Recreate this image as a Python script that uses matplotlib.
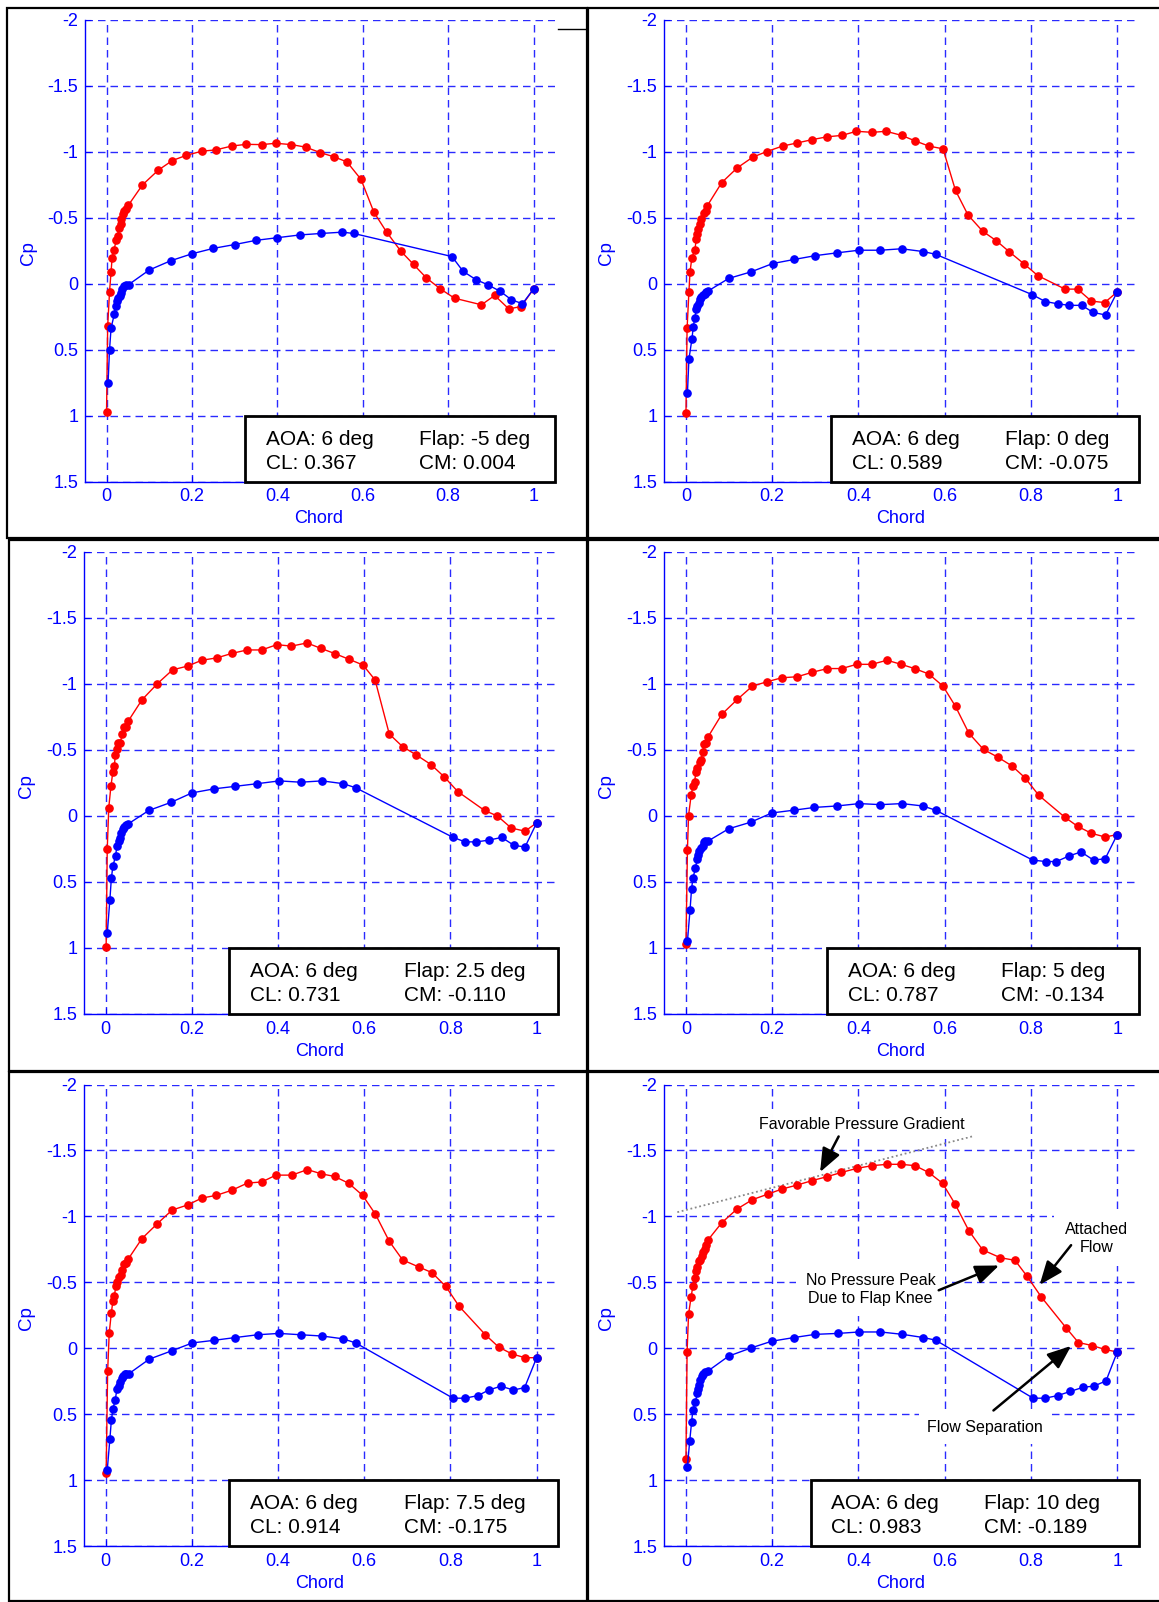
# Cp distributions, AOA 6 deg, six flap settings
import matplotlib
matplotlib.use('Agg')
import matplotlib.pyplot as plt
from matplotlib.patches import Rectangle
from matplotlib.lines import Line2D

plt.rcParams['font.family'] = ['Liberation Sans', 'DejaVu Sans']

# -------------------------
# data (upper = red, lower = blue)
# -------------------------
flap_labels = ['-5', '0', '2.5', '5', '7.5', '10']
cl_values = ['0.367', '0.589', '0.731', '0.787', '0.914', '0.983']
cm_values = ['0.004', '-0.075', '-0.110', '-0.134', '-0.175', '-0.189']
aoa = '6'

up_x_m5 = [0, 0.0026, 0.007, 0.0106, 0.013, 0.017, 0.023, 0.026, 0.029, 0.033, 0.035, 0.039, 0.042, 0.046, 0.051,
           0.084, 0.121, 0.154, 0.187, 0.223, 0.256, 0.293, 0.327, 0.363, 0.396, 0.433, 0.466, 0.5, 0.532, 0.563,
           0.596, 0.626, 0.656, 0.689, 0.719, 0.749, 0.782, 0.815, 0.878, 0.909, 0.942, 0.971, 1.0]
up_cp_m5 = [0.97, 0.324, 0.061, -0.091, -0.195, -0.255, -0.329, -0.365, -0.423, -0.454, -0.488, -0.532, -0.553, -0.569, -0.595,
            -0.749, -0.861, -0.934, -0.974, -1.005, -1.015, -1.044, -1.057, -1.055, -1.065, -1.055, -1.036, -0.995, -0.963, -0.924,
            -0.791, -0.543, -0.391, -0.248, -0.146, -0.044, 0.040, 0.110, 0.160, 0.089, 0.191, 0.173, 0.040]
lo_x_m5 = [0.0035, 0.007, 0.0106, 0.018, 0.021, 0.025, 0.027, 0.031, 0.034, 0.037, 0.041, 0.046, 0.052, 0.1, 0.15, 0.2,
           0.25, 0.3, 0.35, 0.4, 0.453, 0.502, 0.552, 0.579, 0.809, 0.835, 0.865, 0.893, 0.922, 0.948, 0.974, 1.0]
lo_cp_m5 = [0.755, 0.499, 0.337, 0.233, 0.170, 0.131, 0.110, 0.092, 0.071, 0.040, 0.019, 0.008, 0.006, -0.104, -0.174, -0.227,
            -0.268, -0.297, -0.329, -0.349, -0.370, -0.381, -0.391, -0.381, -0.206, -0.094, -0.031, 0.008, 0.058, 0.121, 0.152, 0.040]

up_x_0 = [0, 0.0026, 0.0068, 0.0094, 0.0137, 0.0205, 0.024, 0.0265, 0.029, 0.0325, 0.036, 0.042, 0.046, 0.0496,
          0.083, 0.119, 0.155, 0.187, 0.224, 0.257, 0.293, 0.327, 0.362, 0.395, 0.432, 0.464, 0.5, 0.530, 0.563, 0.596,
          0.625, 0.654, 0.688, 0.720, 0.749, 0.784, 0.816, 0.879, 0.908, 0.940, 0.971, 1.0]
up_cp_0 = [0.984, 0.339, 0.064, -0.090, -0.197, -0.254, -0.338, -0.375, -0.417, -0.453, -0.493, -0.539, -0.550, -0.592,
           -0.767, -0.879, -0.960, -1.002, -1.044, -1.067, -1.093, -1.114, -1.125, -1.156, -1.148, -1.156, -1.125, -1.085, -1.044, -1.023,
           -0.707, -0.521, -0.398, -0.325, -0.244, -0.150, -0.061, 0.041, 0.041, 0.132, 0.143, 0.062]
lo_x_0 = [0.0034, 0.0068, 0.0137, 0.017, 0.0205, 0.024, 0.0265, 0.030, 0.0334, 0.036, 0.040, 0.0436, 0.047, 0.0505,
          0.099, 0.151, 0.201, 0.251, 0.300, 0.35, 0.401, 0.451, 0.5, 0.55, 0.579, 0.803, 0.833, 0.863, 0.889, 0.918, 0.944, 0.973, 1.0]
lo_cp_0 = [0.830, 0.574, 0.422, 0.326, 0.258, 0.195, 0.169, 0.148, 0.119, 0.098, 0.088, 0.077, 0.064, 0.057,
           -0.040, -0.090, -0.153, -0.184, -0.213, -0.234, -0.254, -0.254, -0.265, -0.244, -0.223, 0.083, 0.135, 0.153, 0.164, 0.164, 0.218, 0.237, 0.062]

up_x_25 = [0.0009, 0.0035, 0.007, 0.012, 0.0166, 0.020, 0.022, 0.026, 0.029, 0.034, 0.038, 0.042, 0.047, 0.052,
           0.084, 0.120, 0.155, 0.190, 0.223, 0.258, 0.293, 0.328, 0.362, 0.397, 0.431, 0.467, 0.5, 0.532, 0.564, 0.597,
           0.625, 0.658, 0.689, 0.721, 0.755, 0.786, 0.817, 0.879, 0.909, 0.941, 0.973, 1.0]
up_cp_25 = [0.992, 0.248, -0.063, -0.225, -0.337, -0.376, -0.460, -0.504, -0.551, -0.556, -0.624, -0.671, -0.676, -0.718,
            -0.880, -1.003, -1.107, -1.136, -1.180, -1.198, -1.232, -1.258, -1.258, -1.298, -1.287, -1.311, -1.269, -1.230, -1.188, -1.144,
            -1.031, -0.621, -0.525, -0.462, -0.389, -0.295, -0.185, -0.042, 0.0, 0.091, 0.115, 0.052]
lo_x_25 = [0.0035, 0.0096, 0.013, 0.0166, 0.0227, 0.026, 0.0297, 0.033, 0.036, 0.0393, 0.043, 0.0463, 0.052, 0.100, 0.152, 0.200,
           0.252, 0.301, 0.352, 0.403, 0.452, 0.502, 0.551, 0.580, 0.806, 0.834, 0.860, 0.889, 0.919, 0.947, 0.973, 1.0]
lo_cp_25 = [0.890, 0.634, 0.473, 0.379, 0.305, 0.225, 0.191, 0.164, 0.125, 0.102, 0.084, 0.068, 0.060, -0.042, -0.104, -0.175,
            -0.206, -0.225, -0.245, -0.266, -0.256, -0.266, -0.245, -0.214, 0.162, 0.196, 0.196, 0.183, 0.162, 0.222, 0.235, 0.052]

up_x_5 = [0, 0.0034, 0.006, 0.012, 0.016, 0.020, 0.023, 0.0266, 0.032, 0.035, 0.0386, 0.042, 0.046, 0.051,
          0.083, 0.119, 0.154, 0.189, 0.222, 0.258, 0.293, 0.328, 0.361, 0.396, 0.431, 0.466, 0.499, 0.530, 0.563, 0.596,
          0.625, 0.656, 0.690, 0.724, 0.756, 0.786, 0.818, 0.878, 0.908, 0.940, 0.972, 1.0]
up_cp_5 = [0.971, 0.256, -0.003, -0.157, -0.225, -0.258, -0.332, -0.363, -0.407, -0.423, -0.483, -0.543, -0.556, -0.598,
           -0.770, -0.883, -0.984, -1.018, -1.047, -1.055, -1.089, -1.117, -1.117, -1.149, -1.149, -1.180, -1.149, -1.117, -1.076, -0.984,
           -0.830, -0.627, -0.504, -0.444, -0.379, -0.290, -0.157, 0.008, 0.078, 0.131, 0.159, 0.141]
lo_x_5 = [0.0034, 0.0094, 0.013, 0.0163, 0.022, 0.0257, 0.028, 0.031, 0.034, 0.0386, 0.042, 0.045, 0.052, 0.099, 0.150, 0.199,
          0.250, 0.298, 0.350, 0.402, 0.451, 0.501, 0.549, 0.579, 0.804, 0.834, 0.859, 0.888, 0.916, 0.945, 0.972, 1.0]
lo_cp_5 = [0.950, 0.713, 0.551, 0.467, 0.397, 0.326, 0.292, 0.266, 0.240, 0.227, 0.198, 0.188, 0.188, 0.097, 0.047, -0.023,
           -0.044, -0.065, -0.076, -0.094, -0.086, -0.094, -0.076, -0.044, 0.334, 0.345, 0.345, 0.303, 0.272, 0.334, 0.324, 0.141]

up_x_75 = [0.0009, 0.0044, 0.008, 0.013, 0.0166, 0.020, 0.0236, 0.027, 0.0305, 0.035, 0.038, 0.042, 0.046, 0.052,
           0.084, 0.120, 0.154, 0.190, 0.223, 0.257, 0.293, 0.329, 0.362, 0.395, 0.432, 0.468, 0.5, 0.531, 0.564, 0.596,
           0.626, 0.658, 0.689, 0.727, 0.757, 0.789, 0.820, 0.881, 0.912, 0.943, 0.973, 1.0]
up_cp_75 = [0.943, 0.175, -0.113, -0.270, -0.358, -0.400, -0.473, -0.504, -0.543, -0.556, -0.595, -0.639, -0.644, -0.676,
            -0.832, -0.946, -1.048, -1.087, -1.139, -1.160, -1.199, -1.253, -1.261, -1.313, -1.313, -1.355, -1.323, -1.303, -1.251, -1.160,
            -1.016, -0.811, -0.670, -0.616, -0.574, -0.470, -0.319, -0.103, -0.009, 0.043, 0.071, 0.071]
lo_x_75 = [0.0035, 0.0096, 0.013, 0.0166, 0.022, 0.026, 0.030, 0.033, 0.0366, 0.040, 0.0445, 0.048, 0.053, 0.101, 0.153, 0.201,
           0.252, 0.301, 0.353, 0.402, 0.452, 0.503, 0.551, 0.580, 0.806, 0.834, 0.864, 0.889, 0.917, 0.946, 0.972, 1.0]
lo_cp_75 = [0.922, 0.688, 0.545, 0.462, 0.389, 0.311, 0.285, 0.253, 0.227, 0.209, 0.196, 0.194, 0.194, 0.082, 0.019, -0.041,
            -0.061, -0.082, -0.103, -0.113, -0.103, -0.093, -0.072, -0.041, 0.378, 0.378, 0.358, 0.316, 0.287, 0.316, 0.298, 0.071]

up_x_10 = [0, 0.0026, 0.006, 0.012, 0.016, 0.020, 0.023, 0.026, 0.030, 0.033, 0.0377, 0.040, 0.044, 0.047, 0.051,
           0.083, 0.118, 0.154, 0.190, 0.222, 0.258, 0.293, 0.328, 0.360, 0.396, 0.432, 0.467, 0.498, 0.531, 0.563,
           0.595, 0.624, 0.656, 0.688, 0.729, 0.763, 0.791, 0.824, 0.881, 0.910, 0.942, 0.971, 1.0]
up_cp_10 = [0.839, 0.028, -0.257, -0.391, -0.471, -0.535, -0.584, -0.613, -0.662, -0.669, -0.703, -0.731, -0.754, -0.780, -0.821,
            -0.952, -1.055, -1.127, -1.169, -1.207, -1.238, -1.272, -1.302, -1.333, -1.364, -1.385, -1.395, -1.395, -1.385, -1.333,
            -1.251, -1.094, -0.891, -0.746, -0.687, -0.667, -0.546, -0.389, -0.157, -0.044, -0.021, 0.008, 0.028]
lo_x_10 = [0.0034, 0.0086, 0.013, 0.016, 0.022, 0.026, 0.028, 0.031, 0.033, 0.037, 0.040, 0.0445, 0.051, 0.099, 0.151, 0.199,
           0.251, 0.300, 0.352, 0.402, 0.451, 0.502, 0.550, 0.579, 0.805, 0.833, 0.862, 0.891, 0.920, 0.946, 0.974, 1.0]
lo_cp_10 = [0.896, 0.705, 0.561, 0.468, 0.407, 0.342, 0.311, 0.275, 0.239, 0.208, 0.193, 0.183, 0.172, 0.059, -0.003, -0.054,
            -0.082, -0.106, -0.113, -0.124, -0.124, -0.106, -0.082, -0.062, 0.378, 0.378, 0.358, 0.327, 0.296, 0.286, 0.247, 0.028]

upper = [(up_x_m5, up_cp_m5), (up_x_0, up_cp_0), (up_x_25, up_cp_25),
         (up_x_5, up_cp_5), (up_x_75, up_cp_75), (up_x_10, up_cp_10)]
lower = [(lo_x_m5, lo_cp_m5), (lo_x_0, lo_cp_0), (lo_x_25, lo_cp_25),
         (lo_x_5, lo_cp_5), (lo_x_75, lo_cp_75), (lo_x_10, lo_cp_10)]

x_ticks = [0, 0.2, 0.4, 0.6, 0.8, 1]
x_ticklabels = ['0', '0.2', '0.4', '0.6', '0.8', '1']
y_ticks = [-2, -1.5, -1, -0.5, 0, 0.5, 1, 1.5]
y_ticklabels = ['-2', '-1.5', '-1', '-0.5', '0', '0.5', '1', '1.5']

# -------------------------
# layout (pixels of the 1159x1602 page)
# -------------------------
W, H = 1159, 1602
axes_px = [(85.2, 20, 469.7, 461.5), (664.4, 20, 474.4, 461.5),
           (84.2, 552, 474, 462), (664.4, 552, 474.4, 462),
           (84.2, 1084.5, 474, 461.7), (664.4, 1084.5, 474.4, 461.7)]
frames_px = [(7, 8, 587, 538), (588, 8, 1170, 538),
             (9, 540, 587, 1071), (588, 540, 1170, 1071),
             (9, 1072, 587, 1601), (588, 1072, 1170, 1601)]
# info box left edge, AOA column, Flap column (data x)
box_pos = [(0.325, 0.373, 0.732), (0.336, 0.384, 0.740), (0.285, 0.334, 0.693),
           (0.326, 0.375, 0.731), (0.285, 0.334, 0.693), (0.289, 0.336, 0.692)]

BLUE = '#0000ff'
GRID = '#2a2aff'

fig = plt.figure(figsize=(W / 100, H / 100), dpi=100)

def px_rect(l, t, w, h):
    return [l / W, 1 - (t + h) / H, w / W, h / H]

for i in range(6):
    ax = fig.add_axes(px_rect(*axes_px[i]))
    ax.set_xlim(-0.05, 1.05)
    ax.set_ylim(1.5, -2)
    ax.set_axisbelow(True)
    ax.grid(True, color=GRID, linestyle=(0, (5.4, 3.6)), linewidth=1.0)

    ax.plot(upper[i][0], upper[i][1], color='red', lw=1.0, marker='o', ms=5.2, mec='red', mfc='red', zorder=3)
    ax.plot(lower[i][0], lower[i][1], color='blue', lw=1.0, marker='o', ms=5.2, mec='blue', mfc='blue', zorder=3)

    for s in ['top', 'right']:
        ax.spines[s].set_visible(False)
    for s in ['left', 'bottom']:
        ax.spines[s].set_color(BLUE)
        ax.spines[s].set_linewidth(1.0)

    ax.set_xticks(x_ticks)
    ax.set_xticklabels(x_ticklabels)
    ax.set_yticks(y_ticks)
    ax.set_yticklabels(y_ticklabels)
    ax.tick_params(direction='in', length=4, color=BLUE, labelcolor=BLUE, labelsize=13)
    ax.tick_params(axis='x', pad=5)
    ax.tick_params(axis='y', pad=5)

    ax.set_xlabel('Chord', color=BLUE, fontsize=13, va='center')
    ax.set_ylabel('Cp', color=BLUE, fontsize=13.5, va='center')
    ax.xaxis.set_label_coords(0.497, -0.081)
    ax.yaxis.set_label_coords(-0.121, 0.494)

    # info box
    bl, ax1, ax2 = box_pos[i]
    ax.add_patch(Rectangle((bl, 1.0), 1.05 - bl, 0.5, facecolor='white', edgecolor='black',
                           lw=2.0, zorder=5, clip_on=False))
    ax.text(ax1, 1.18, 'AOA: %s deg' % aoa, fontsize=15, va='center', zorder=6)
    ax.text(ax1, 1.36, 'CL: %s' % cl_values[i], fontsize=15, va='center', zorder=6)
    ax.text(ax2, 1.18, 'Flap: %s deg' % flap_labels[i], fontsize=15, va='center', zorder=6)
    ax.text(ax2, 1.36, 'CM: %s' % cm_values[i], fontsize=15, va='center', zorder=6)

    if i == 5:
        # notes on the 10 deg case
        arrow = dict(arrowstyle='-|>,head_length=0.8,head_width=0.32', color='black', lw=1.8,
                     mutation_scale=18, shrinkA=0, shrinkB=0)
        note = dict(fontsize=11.5, ha='center', va='center', linespacing=1.25, zorder=4)
        white = dict(facecolor='white', edgecolor='none', pad=4)
        ax.plot([-0.02, 0.669], [-1.032, -1.611], linestyle=(0, (1, 1.5)), color='#888888', lw=1.3, zorder=2)
        ax.text(0.407, -1.70, 'Favorable Pressure Gradient', bbox=white, **note)
        ax.annotate('', xy=(0.311, -1.336), xytext=(0.354, -1.606), arrowprops=arrow, zorder=7)
        ax.text(0.953, -0.834, 'Attached\nFlow', bbox=dict(facecolor='white', edgecolor='none', pad=8), **note)
        ax.annotate('', xy=(0.820, -0.481), xytext=(0.893, -0.782), arrowprops=arrow, zorder=7)
        ax.text(0.428, -0.443, 'No Pressure Peak\nDue to Flap Knee',
                bbox=dict(facecolor='white', edgecolor='none', pad=7), **note)
        ax.annotate('', xy=(0.726, -0.628), xytext=(0.586, -0.440), arrowprops=arrow, zorder=7)
        ax.text(0.694, 0.602, 'Flow Separation', bbox=dict(facecolor='white', edgecolor='none', pad=6), **note)
        ax.annotate('', xy=(0.893, -0.018), xytext=(0.713, 0.471), arrowprops=arrow, zorder=7)

# panel frames
for (l, t, r, b) in frames_px:
    fig.add_artist(Rectangle((l / W, 1 - b / H), (r - l) / W, (b - t) / H, transform=fig.transFigure,
                             fill=False, edgecolor='black', lw=1.6))

# stray tick mark at top right of first panel
fig.add_artist(Line2D([558 / W, 585 / W], [1 - 29 / H, 1 - 29 / H], transform=fig.transFigure,
                      color='black', lw=1.0))

fig.savefig('out.png', dpi=100)
